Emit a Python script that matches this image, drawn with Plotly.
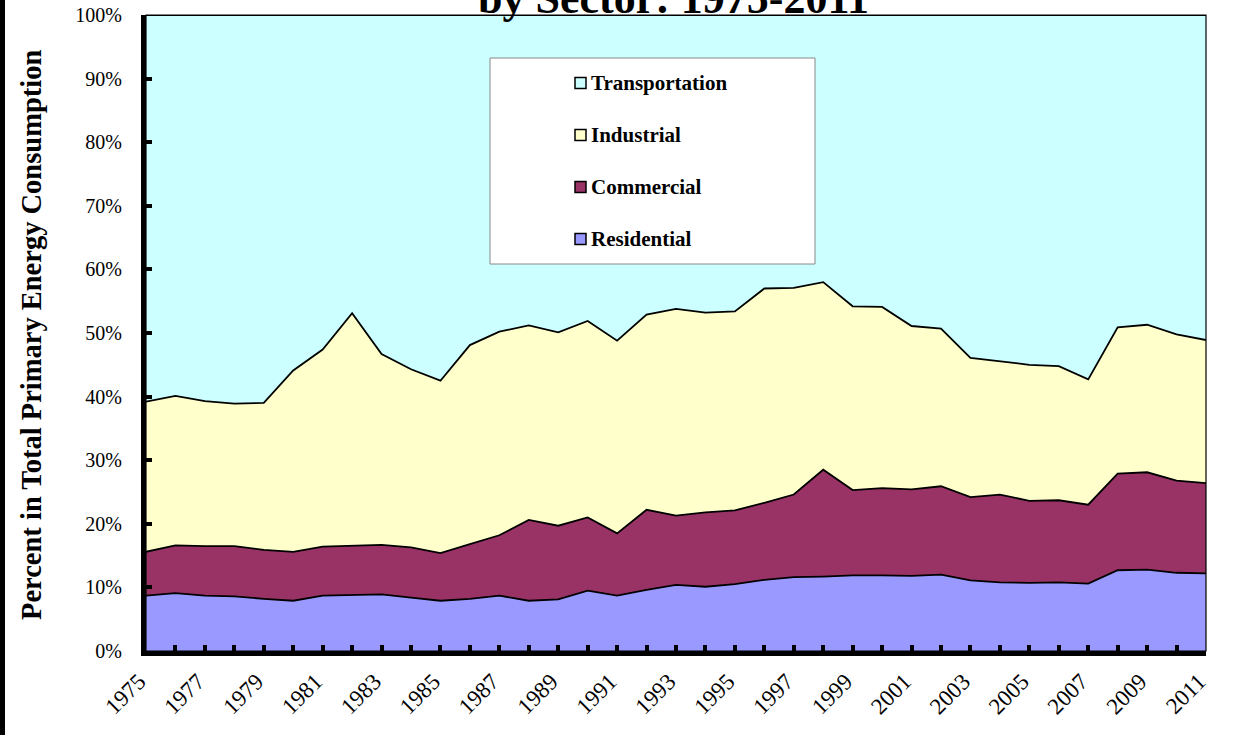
import plotly.graph_objects as go

years = list(range(1975, 2012))

# shares of total primary energy consumption (%)
residential = [8.7, 9.1, 8.7, 8.6, 8.2, 7.9, 8.7, 8.8, 8.9, 8.4, 7.9, 8.2, 8.7, 7.9, 8.1, 9.5, 8.7, 9.6,
               10.4, 10.1, 10.5, 11.2, 11.6, 11.7, 11.9, 11.9, 11.8, 12.0, 11.1, 10.8, 10.7, 10.8, 10.6,
               12.7, 12.8, 12.3, 12.2]
commercial = [6.9, 7.5, 7.8, 7.9, 7.7, 7.7, 7.7, 7.8, 7.8, 7.9, 7.5, 8.6, 9.5, 12.7, 11.6, 11.5, 9.8, 12.6,
              10.9, 11.7, 11.6, 12.1, 13.0, 16.8, 13.4, 13.7, 13.6, 13.9, 13.1, 13.8, 12.9, 12.9, 12.4,
              15.2, 15.3, 14.5, 14.2]
industrial = [23.6, 23.5, 22.8, 22.4, 23.1, 28.5, 31.0, 36.5, 30.0, 28.0, 27.1, 31.3, 32.0, 30.6, 30.4,
              30.9, 30.3, 30.7, 32.5, 31.4, 31.3, 33.7, 32.5, 29.5, 28.9, 28.5, 25.7, 24.8, 21.9, 20.9,
              21.4, 21.1, 19.7, 23.0, 23.2, 23.0, 22.5]
transportation = [60.8, 59.9, 60.7, 61.1, 61.0, 55.9, 52.6, 46.9, 53.3, 55.7, 57.5, 51.9, 49.8, 48.8,
                  49.9, 48.1, 51.2, 47.1, 46.2, 46.8, 46.6, 43.0, 42.9, 42.0, 45.8, 45.9, 48.9, 49.3,
                  53.9, 54.5, 55.0, 55.2, 57.3, 49.1, 48.7, 50.2, 51.1]

sectors = ['Residential', 'Commercial', 'Industrial', 'Transportation']
colors = ['#9999FF', '#993366', '#FFFFCC', '#CCFFFF']
series = [residential, commercial, industrial, transportation]

W, H = 1239, 735
L, R, T, B = 146, 33, 15, 84
PW, PH = W - L - R, H - T - B
SERIF = 'Liberation Serif, Times New Roman, serif'


def px_x(p):
    return (p - L) / PW


def px_y(p):
    return (H - B - p) / PH


fig = go.Figure()
for name, vals, col in zip(sectors, series, colors):
    fig.add_trace(go.Scatter(
        x=years, y=vals, name=name, mode='lines', stackgroup='one',
        line=dict(color='black', width=1.8), fillcolor=col, showlegend=False,
    ))

shapes = [
    # thin frame around plot area
    dict(type='rect', xref='paper', yref='paper', x0=0, x1=1, y0=0, y1=1,
         line=dict(color='black', width=1.2), layer='above'),
    # border bar on the far left
    dict(type='rect', xref='paper', yref='paper', x0=px_x(0), x1=px_x(5), y0=px_y(H), y1=px_y(0),
         fillcolor='black', line=dict(width=0)),
    # legend box
    dict(type='rect', xref='paper', yref='paper', x0=px_x(490), x1=px_x(815), y0=px_y(264), y1=px_y(58),
         fillcolor='white', line=dict(color='#888888', width=1), layer='above'),
]
annotations = []
legend_rows = [83, 135, 187, 239]
for name, col, yc in zip(sectors[::-1], colors[::-1], legend_rows):
    shapes.append(dict(type='rect', xref='paper', yref='paper',
                       x0=px_x(575), x1=px_x(586), y0=px_y(yc + 5.5), y1=px_y(yc - 5.5),
                       fillcolor=col, line=dict(color='black', width=1.5), layer='above'))
    annotations.append(dict(xref='paper', yref='paper', x=px_x(589), y=px_y(yc), text='<b>' + name + '</b>',
                            showarrow=False, xanchor='left', yanchor='middle',
                            font=dict(family=SERIF, size=21, color='black')))

# title (top line is cut off in the original)
annotations.append(dict(xref='paper', yref='paper', x=px_x(673), y=px_y(-2), text='<b>by Sector: 1975-2011</b>',
                        showarrow=False, xanchor='center', yanchor='middle',
                        font=dict(family=SERIF, size=44, color='black')))
# y axis title
annotations.append(dict(xref='paper', yref='paper', x=px_x(31), y=px_y(335), textangle=-90,
                        text='<b>Percent in Total Primary Energy Consumption</b>',
                        showarrow=False, xanchor='center', yanchor='middle',
                        font=dict(family=SERIF, size=28.5, color='black')))

fig.update_layout(
    width=W, height=H,
    margin=dict(l=L, r=R, t=T, b=B),
    paper_bgcolor='white', plot_bgcolor='white',
    shapes=shapes, annotations=annotations,
    showlegend=False,
)
fig.update_xaxes(
    range=[1975, 2011], tick0=1975, dtick=2, tickangle=-45, automargin=False,
    ticks='inside', ticklen=6, tickwidth=4, tickcolor='black',
    minor=dict(dtick=1, ticks='inside', ticklen=6, tickwidth=4, tickcolor='black'),
    showline=True, linecolor='black', linewidth=5, showgrid=False, zeroline=False,
    tickfont=dict(family=SERIF, size=23, color='black'), ticklabelstandoff=3, ticklabelshift=-7,
)
fig.update_yaxes(
    range=[0, 100], dtick=10, ticksuffix='%', automargin=False,
    ticks='inside', ticklen=6, tickwidth=4, tickcolor='black',
    showline=True, linecolor='black', linewidth=5, showgrid=False, zeroline=False,
    tickfont=dict(family=SERIF, size=20, color='black'), ticklabelstandoff=15,
)

# page has a default body margin; remove it so the figure sits at the window corner
fig.write_html("out.html", config={'displayModeBar': False},
               post_script="document.body.style.margin='0';")
